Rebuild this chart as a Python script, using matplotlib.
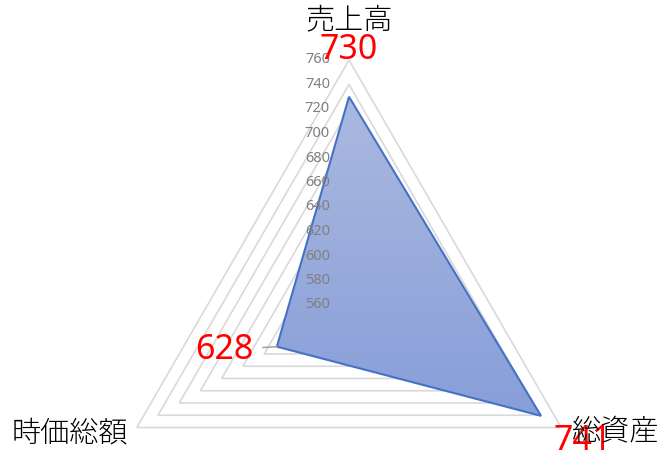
import numpy as np
import matplotlib
matplotlib.use("Agg")
import matplotlib.pyplot as plt
from matplotlib.patches import Polygon

plt.rcParams['font.family'] = ['Noto Sans CJK JP', 'DejaVu Sans']

# データ
categories = ['売上高', '総資産', '時価総額']
values = [730, 741, 628]
r_min, r_max, r_step = 560, 760, 20
tick_values = list(range(r_min, r_max + 1, r_step))

# 各軸の角度（上から時計回り）
angles = np.deg2rad([90, -30, 210])


def to_xy(v, a):
    r = np.asarray(v, dtype=float) - r_min
    return r * np.cos(a), r * np.sin(a)


fig = plt.figure(figsize=(6.7, 4.75), dpi=100)
ax = fig.add_axes([0, 0, 1, 1])
ax.axis('off')

# 画面上の配置（中心と外周の半径）
s = 245 / (r_max - r_min)
cx, cy = 349, 305
ax.set_xlim(-cx / s, (670 - cx) / s)
ax.set_ylim(-(475 - cy) / s, cy / s)

# 目盛りの三角形
for tv in tick_values[1:]:
    gx, gy = to_xy([tv] * 3, angles)
    ax.add_patch(Polygon(np.column_stack([gx, gy]), closed=True, fill=False,
                         edgecolor='#D9D9D9', lw=1.2, zorder=1))

# データの多角形（グラデーション）
px, py = to_xy(values, angles)
poly = Polygon(np.column_stack([px, py]), closed=True, facecolor='none',
               edgecolor='#4472C4', lw=1.5, zorder=4)
ax.add_patch(poly)
grad = np.linspace(0, 1, 256).reshape(-1, 1)
cmap = matplotlib.colors.LinearSegmentedColormap.from_list(
    'g', ['#AAB9DF', '#889ED9'])
img = ax.imshow(grad, cmap=cmap, aspect='auto', origin='upper',
                extent=[px.min(), px.max(), py.min(), py.max()], zorder=3)
clip = Polygon(np.column_stack([px, py]), closed=True, transform=ax.transData)
img.set_clip_path(clip)

# 目盛りラベル
for tv in tick_values:
    ax.text(-19 / s, tv - r_min, str(tv), ha='right', va='center',
            fontsize=10.5, color='#808080', family=['Noto Sans', 'DejaVu Sans'],
            zorder=5)

# 項目ラベル
ox, oy = to_xy([r_max] * 3, angles)
lab = dict(fontsize=21, color='#000000', fontweight='light', zorder=7)
ax.text(ox[0], oy[0] + 40 / s, categories[0], ha='center', va='center', **lab)
ax.text(ox[1] + 10 / s, oy[1] - 4 / s, categories[1], ha='left', va='center',
        **lab)
ax.text(ox[2] - 9 / s, oy[2] - 6 / s, categories[2], ha='right', va='center',
        **lab)

# データラベル
offsets = [(0, 34), (30, -18), (-38, -2.5)]
for i, v in enumerate(values):
    kw = {}
    if i == 2:
        kw['arrowprops'] = dict(arrowstyle='-', color='#A6A6A6', lw=1.2,
                                shrinkA=5, shrinkB=0)
    ax.annotate(str(v), (px[i], py[i]), xytext=offsets[i],
                textcoords='offset points', ha='center', va='center',
                fontsize=24.5, color='#FF0000',
                family=['Noto Sans', 'DejaVu Sans'], zorder=6, **kw)

fig.savefig('out.png', dpi=100)
